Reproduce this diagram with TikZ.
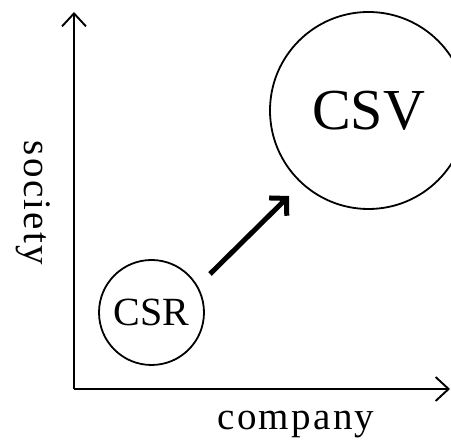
\documentclass[tikz,border=0pt]{standalone}
\usepackage{fontspec}
\setmainfont{Liberation Serif}
\newfontfamily\spaced[LetterSpace=6]{Liberation Serif}
\usetikzlibrary{arrows.meta}
\tikzset{
  axis/.style={line width=1.9pt, -{Straight Barb[length=13pt,width=24pt,line width=1.9pt]}},
  bubble/.style={circle, draw, line width=1.8pt, inner sep=0pt},
  move/.style={line width=5pt, miter limit=10, -{Straight Barb[length=12pt,width=25pt,line width=5pt]}},
  axislabel/.style={font=\fontsize{39}{42}\selectfont\spaced, inner sep=0pt}
}
\begin{document}
\begin{tikzpicture}[x=1pt,y=1pt]
\useasboundingbox (0,0) rectangle (451,441);
\coordinate (o) at (74,52);
\coordinate (ytop) at (74,429);
\coordinate (xend) at (450,52);
\draw[axis] (o) -- (ytop);
\draw[axis] (o) -- (xend);
\node[bubble, minimum size=105pt, font=\fontsize{40}{42}\selectfont] (csr) at (151.5,128.5) {\raisebox{-1pt}{CSR}};
\node[bubble, minimum size=197pt, font=\fontsize{58}{60}\selectfont] (csv) at (368.5,330.5) {\raisebox{-5pt}{CSV}};
\coordinate (a1) at (210,167);
\coordinate (a2) at (289,245);
\draw[move] (a1) -- (a2);
\node[axislabel, anchor=base] (company) at (296,11) {company};
\node[axislabel, anchor=base, rotate=-90] (society) at (24,238) {society};
\end{tikzpicture}
\end{document}
